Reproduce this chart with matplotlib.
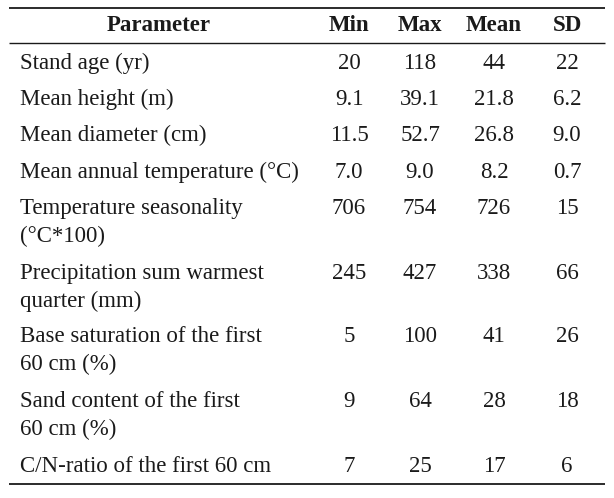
import matplotlib
matplotlib.use("Agg")
import matplotlib.pyplot as plt

# table content
columns = ["Parameter", "Min", "Max", "Mean", "SD"]
parameters = [
    ["Stand age (yr)"],
    ["Mean height (m)"],
    ["Mean diameter (cm)"],
    ["Mean annual temperature (\u00b0C)"],
    ["Temperature seasonality", "(\u00b0C*100)"],
    ["Precipitation sum warmest", "quarter (mm)"],
    ["Base saturation of the first", "60 cm (%)"],
    ["Sand content of the first", "60 cm (%)"],
    ["C/N-ratio of the first 60 cm"],
]
min_vals = ["20", "9.1", "11.5", "7.0", "706", "245", "5", "9", "7"]
max_vals = ["118", "39.1", "52.7", "9.0", "754", "427", "100", "64", "25"]
mean_vals = ["44", "21.8", "26.8", "8.2", "726", "338", "41", "28", "17"]
sd_vals = ["22", "6.2", "9.0", "0.7", "15", "66", "26", "18", "6"]

# layout (pixels)
W, H = 614, 498
col_x = [159, 349, 420, 494, 567]
text_x = 20
row_y = [63, 99, 135, 172, 208, 273, 336, 401, 466]
line_gap = 28
rule_top, rule_head, rule_bottom = 7.5, 43, 484
rule_x0, rule_x1 = 9, 605
fs = 16.5

fig = plt.figure(figsize=(W / 100, H / 100), dpi=100)
ax = fig.add_axes([0, 0, 1, 1])
ax.set_xlim(0, W)
ax.set_ylim(H, 0)
ax.axis("off")

font = dict(family="Liberation Serif", fontsize=fs, color="#1a1a1a")

for i, name in enumerate(columns):
    ax.text(col_x[i], 25, name, ha="center", va="center", fontweight="bold", **font)

for i, lines in enumerate(parameters):
    for j, line in enumerate(lines):
        ax.text(text_x, row_y[i] + j * line_gap, line, ha="left", va="center", **font)
    for k, col in enumerate([min_vals, max_vals, mean_vals, sd_vals]):
        ax.text(col_x[k + 1], row_y[i], col[i], ha="center", va="center", **font)

for y, lw in [(rule_top, 1.3), (rule_head, 1.0), (rule_bottom, 1.3)]:
    ax.plot([rule_x0, rule_x1], [y, y], color="#1a1a1a", lw=lw, solid_capstyle="butt")

fig.savefig("out.png", dpi=100, facecolor="white")
